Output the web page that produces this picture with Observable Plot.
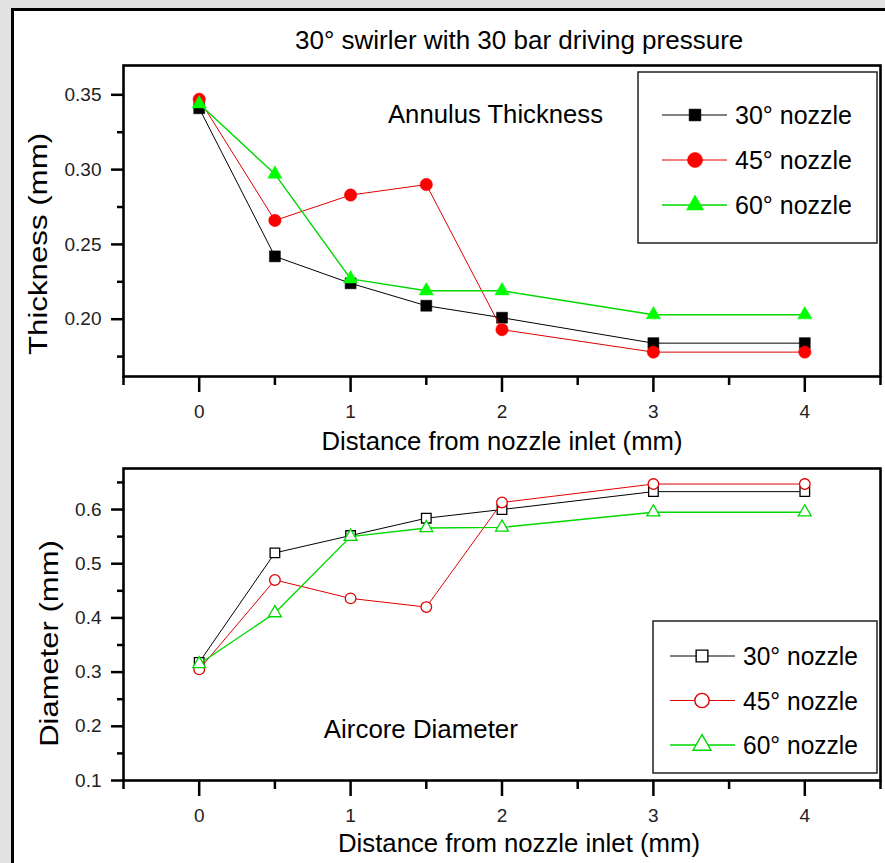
<!DOCTYPE html>
<html>
<head>
<meta charset="utf-8">
<script src="https://cdn.jsdelivr.net/npm/d3@7"></script>
<script src="https://cdn.jsdelivr.net/npm/@observablehq/plot@0.6"></script>
<style>
  body { margin: 0; background: #e2e2e2; font-family: "Liberation Sans", Arial, sans-serif; }
  #page { position: relative; width: 885px; height: 863px; overflow: hidden; }
  #sheet { position: absolute; left: 11px; top: 8px; width: 900px; height: 900px; background: #fff;
           border-left: 3px solid #000; border-top: 3px solid #000; }
  #title { position: absolute; left: 295px; top: 27px; font-size: 26px; line-height: 26px; white-space: nowrap; color: #000; }
  .chart { position: absolute; left: 0; }
</style>
</head>
<body>
<div id="page">
  <div id="sheet"></div>
  <div id="title"></div>
  <div id="topPanel" class="chart" style="top:0"></div>
  <div id="bottomPanel" class="chart" style="top:460px"></div>
</div>
<script>
// ---- data ----
const titleText = "30° swirler with 30 bar driving pressure";
const distance = [0, 0.5, 1, 1.5, 2, 3, 4];
const nozzles = ["30° nozzle", "45° nozzle", "60° nozzle"];
const thickness30 = [0.341, 0.242, 0.224, 0.209, 0.201, 0.184, 0.184];
const thickness45 = [0.347, 0.266, 0.283, 0.290, 0.193, 0.178, 0.178];
const thickness60 = [0.344, 0.297, 0.227, 0.219, 0.219, 0.203, 0.203];
const diameter30 = [0.318, 0.520, 0.552, 0.584, 0.600, 0.633, 0.633];
const diameter45 = [0.305, 0.470, 0.436, 0.420, 0.613, 0.647, 0.647];
const diameter60 = [0.315, 0.409, 0.550, 0.566, 0.567, 0.595, 0.595];
const xMajorTicks = [0, 1, 2, 3, 4];
const xMinorTicks = [-0.5, 0.5, 1.5, 2.5, 3.5, 4.5];
const thicknessMajorTicks = [0.20, 0.25, 0.30, 0.35];
const thicknessMinorTicks = [0.175, 0.225, 0.275, 0.325];
const diameterMajorTicks = [0.1, 0.2, 0.3, 0.4, 0.5, 0.6];
const diameterMinorTicks = [0.15, 0.25, 0.35, 0.45, 0.55, 0.65];
const xLabel = "Distance from nozzle inlet (mm)";

// ---- styles ----
const lineColors = ["#000000", "#e00000", "#00d800"];
const markColors = ["#000000", "#ff0000", "#00ff00"];
const lineWidths = [1, 1, 1.4];
const symbols = ["square", "circle", "triangle"];
const d3symbols = [d3.symbolSquare, d3.symbolCircle, d3.symbolTriangle];
const FONT = "'Liberation Sans', Arial, sans-serif";

document.getElementById("title").textContent = titleText;

function rowsOf(values) {
  return values.map(v => distance.map((d, i) => ({distance: d, value: v[i]})));
}

function panel(opt) {
  const series = rowsOf(opt.values);
  const marks = [
    Plot.axisY({ticks: opt.yMajor, tickSize: 12, tickPadding: 10, tickFormat: opt.fmt, fontSize: 19, fill: "#222", strokeWidth: 2.5, label: null}),
    Plot.axisY({ticks: opt.yMinor, tickSize: 6, tickFormat: () => "", strokeWidth: 2.5, label: null}),
    Plot.axisX({ticks: xMajorTicks, tickSize: 16, tickPadding: 12, tickFormat: d3.format("d"), fontSize: 19, fill: "#222", strokeWidth: 2.5, label: null}),
    Plot.axisX({ticks: xMinorTicks, tickSize: 9, tickFormat: () => "", strokeWidth: 2.5, label: null})
  ];
  series.forEach((rows, i) => {
    marks.push(Plot.line(rows, {x: "distance", y: "value", stroke: lineColors[i], strokeWidth: lineWidths[i]}));
    marks.push(Plot.dot(rows, {
      x: "distance", y: "value", symbol: symbols[i], r: opt.r[i],
      fill: opt.filled ? markColors[i] : "white",
      stroke: opt.filled ? markColors[i] : lineColors[i],
      strokeWidth: opt.filled ? 0.5 : 1.3
    }));
  });
  marks.push(Plot.frame({stroke: "#000", strokeWidth: 2.6}));
  marks.push(Plot.text([xLabel], {frameAnchor: "bottom", dy: opt.xLabelDy, dx: opt.xLabelDx, fontSize: 25, textAnchor: "middle", lineAnchor: "middle", fill: "#000"}));
  marks.push(Plot.text([opt.yLabel], {frameAnchor: "left", rotate: -90, dx: opt.yLabelDx, dy: opt.yLabelDy, fontSize: 25, textAnchor: "middle", lineAnchor: "middle", fill: "#000"}));
  marks.push(Plot.text([opt.note], {x: d => d.x, y: d => d.y, text: d => d.text, fontSize: 25, textAnchor: "middle", lineAnchor: "middle", fill: "#000"}));
  const svg = Plot.plot({
    width: 885, height: opt.height,
    marginLeft: 123, marginRight: 5, marginTop: opt.marginTop, marginBottom: opt.marginBottom,
    style: {background: "transparent", fontFamily: FONT, overflow: "visible"},
    x: {domain: [-0.5, 4.5], label: null},
    y: {domain: opt.yDomain, label: null},
    marks
  });
  const root = d3.select(svg);
  // legend
  const g = root.append("g").attr("text-anchor", "start");
  const L = opt.legend;
  g.append("rect").attr("x", L.x).attr("y", L.y).attr("width", L.w).attr("height", L.h)
    .attr("fill", "white").attr("stroke", "#222").attr("stroke-width", 1.5);
  nozzles.forEach((name, i) => {
    const cy = L.first + i * L.step;
    g.append("line").attr("x1", L.lx1).attr("x2", L.lx2).attr("y1", cy).attr("y2", cy)
      .attr("stroke", lineColors[i]).attr("stroke-width", lineWidths[i]);
    g.append("path").attr("transform", `translate(${L.mx},${cy})`)
      .attr("d", d3.symbol().type(d3symbols[i]).size(L.sizes[i])())
      .attr("fill", opt.filled ? markColors[i] : "white")
      .attr("stroke", opt.filled ? markColors[i] : lineColors[i])
      .attr("stroke-width", opt.filled ? 0.5 : 1.4);
    g.append("text").attr("x", L.tx).attr("y", cy + 9).attr("font-size", 25)
      .attr("text-anchor", "start")
      .attr("font-family", FONT).attr("fill", "#000").text(name);
  });
  // text fine-tuning
  root.selectAll("text").each(function() {
    const t = this.textContent;
    const sel = d3.select(this);
    if (/^[0-9.]+$/.test(t)) {
      sel.style("font-size", "19px");
    } else if (t === opt.yLabel) {
      sel.attr("transform", (sel.attr("transform") || "") + ` scale(${opt.yLabelScale},1)`);
    } else if (opt.lengths[t]) {
      sel.attr("textLength", opt.lengths[t]).attr("lengthAdjust", "spacingAndGlyphs");
    }
  });
  return svg;
}

const topChart = panel({
  values: [thickness30, thickness45, thickness60],
  yDomain: [0.1617, 0.3696], yMajor: thicknessMajorTicks, yMinor: thicknessMinorTicks, fmt: d3.format(".2f"),
  height: 460, marginTop: 65, marginBottom: 84, filled: true,
  r: [6.2, 6.2, 5.3],
  yLabel: "Thickness (mm)", yLabelDx: -85, yLabelDy: 23, yLabelScale: 1.25, xLabelDy: 65, xLabelDx: 0,
  note: {x: 1.957, y: 0.3362, text: "Annulus Thickness"},
  legend: {x: 638, y: 72, w: 239, h: 171, first: 115, step: 45, lx1: 662, lx2: 727, mx: 695, tx: 735, sizes: [140, 180, 130]},
  lengths: {[xLabel]: 361, "Annulus Thickness": 215, "30° nozzle": 117, "45° nozzle": 117, "60° nozzle": 117}
});
document.getElementById("topPanel").appendChild(topChart);

const bottomChart = panel({
  values: [diameter30, diameter45, diameter60],
  yDomain: [0.1, 0.6757], yMajor: diameterMajorTicks, yMinor: diameterMinorTicks, fmt: d3.format(".1f"),
  height: 403, marginTop: 8, marginBottom: 83, filled: false,
  r: [5.4, 5.3, 4.8],
  yLabel: "Diameter (mm)", yLabelDx: -74, yLabelDy: 19, yLabelScale: 1.24, xLabelDy: 63, xLabelDx: 17,
  note: {x: 1.464, y: 0.1923, text: "Aircore Diameter"},
  legend: {x: 653, y: 161, w: 224, h: 152, first: 196, step: 44.5, lx1: 670, lx2: 735, mx: 702, tx: 743, sizes: [137, 161, 140]},
  lengths: {[xLabel]: 362, "Aircore Diameter": 194, "30° nozzle": 115, "45° nozzle": 115, "60° nozzle": 115}
});
document.getElementById("bottomPanel").appendChild(bottomChart);
</script>
</body>
</html>
